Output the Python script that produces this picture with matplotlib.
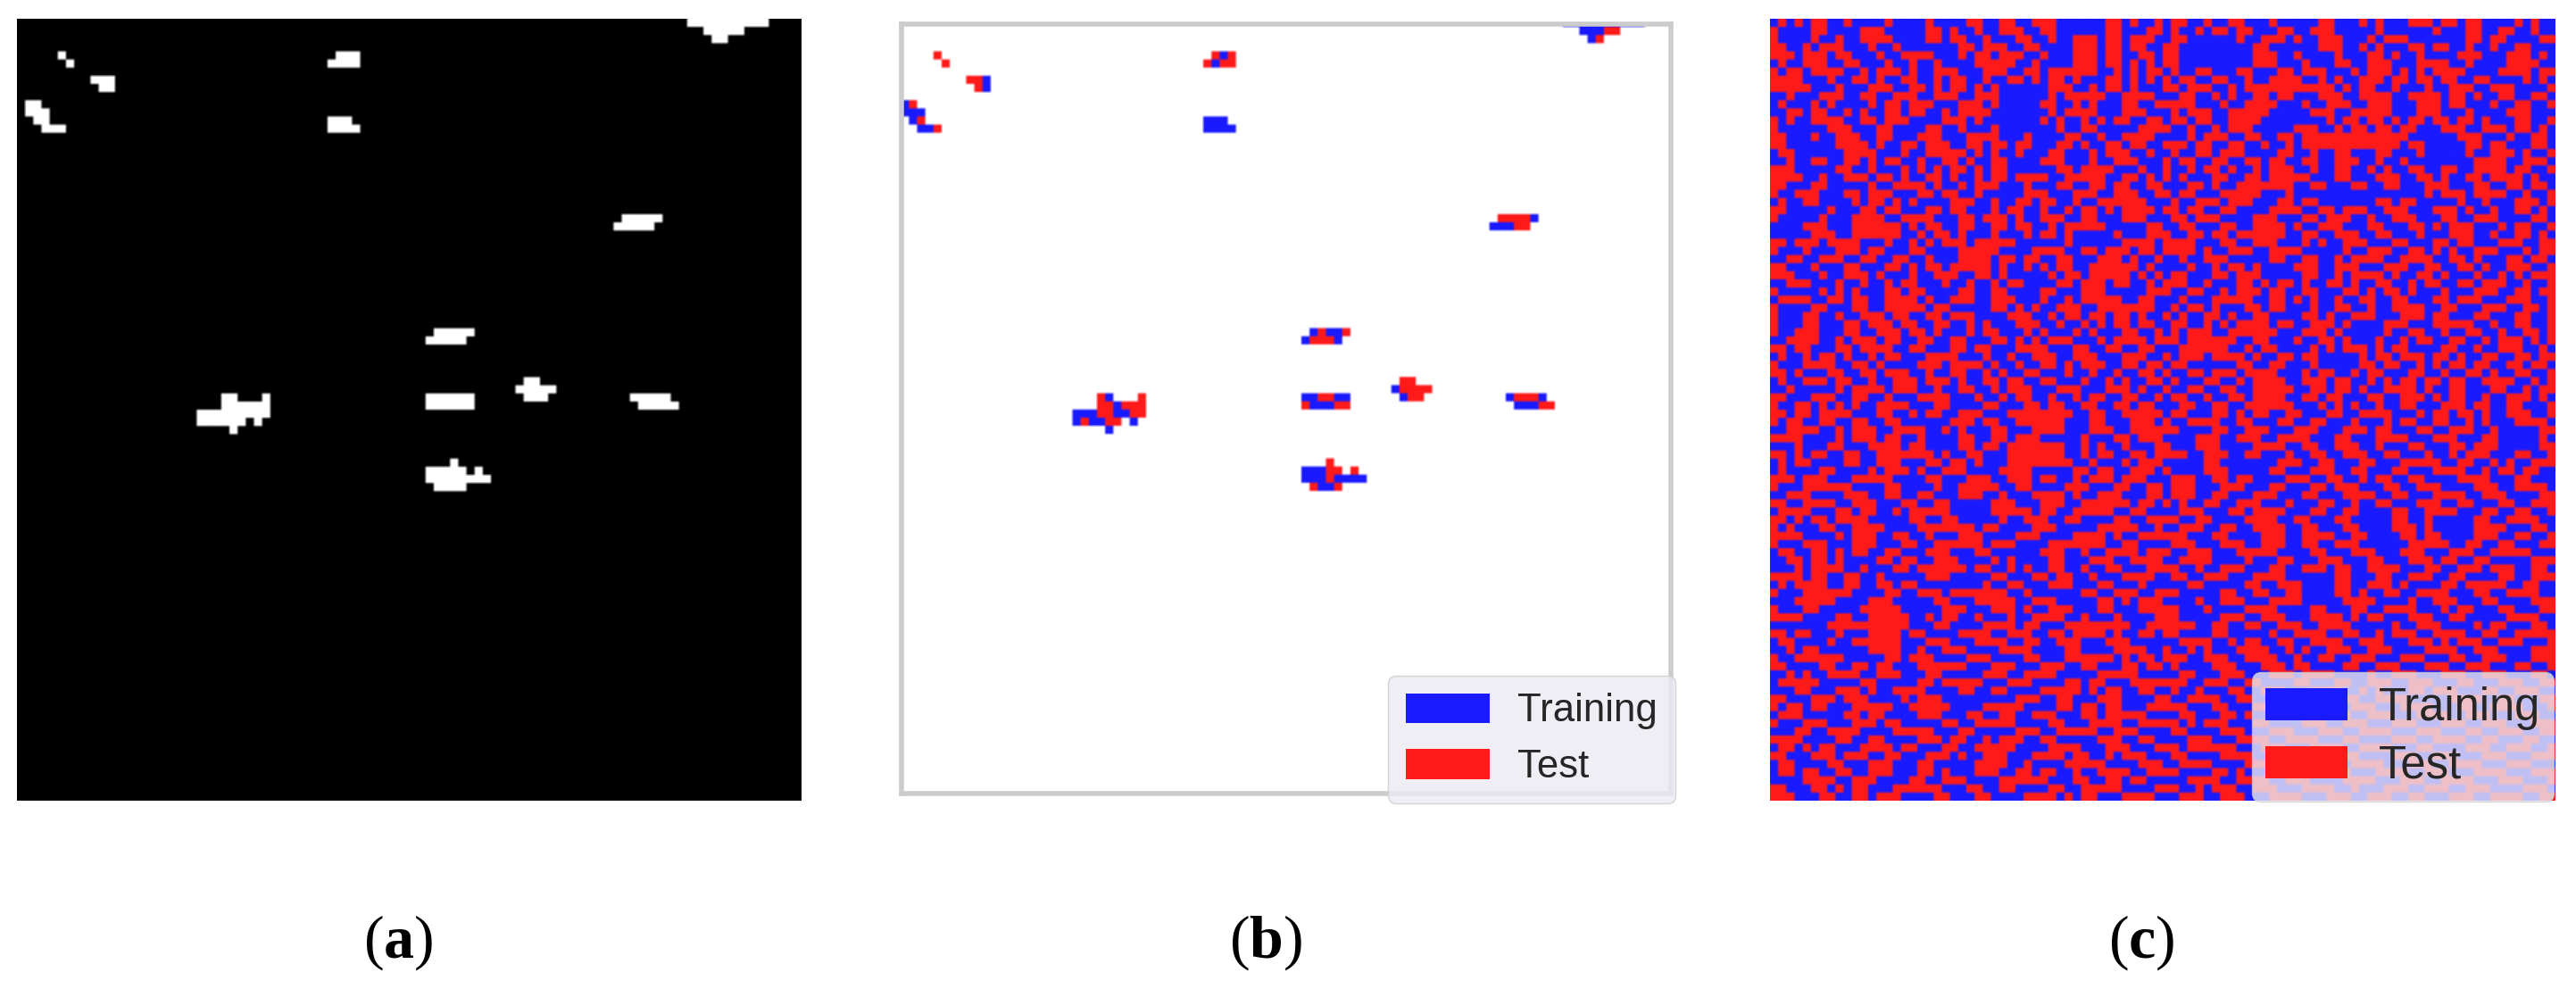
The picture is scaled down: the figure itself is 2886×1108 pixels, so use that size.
"""
Three panel figure: label mask, training/test split by region, random split.
Cell values below are read by eye from the picture.
"""

import numpy as np
import matplotlib
matplotlib.use("Agg")
import matplotlib.pyplot as plt
from matplotlib.patches import Patch

WIDTH, HEIGHT = 2886, 1108
GRID = 96
BLUE = "#1a1aff"
RED = "#ff1a1a"

LEGEND_LABELS = ["Training", "Test"]
PANEL_LABELS = ["a", "b", "c"]

# (row, first column, cells) B = training, R = test
MASK_RUNS = [
    (0, 82, "BBBBBBBBBB"), (1, 84, "BBBRR"), (2, 85, "BR"),
    (4, 5, "R"), (5, 6, "R"),
    (7, 9, "RRB"), (8, 10, "RB"),
    (10, 1, "BR"), (11, 1, "BBB"), (12, 2, "BR"), (13, 3, "BBR"),
    (4, 39, "RBR"), (5, 38, "RBRR"),
    (12, 38, "BBB"), (13, 38, "BBBB"),
    (24, 74, "RRRRB"), (25, 73, "BBBRR"),
    (38, 51, "BRBBR"), (39, 50, "BRRRB"),
    (46, 25, "RB"), (46, 30, "R"),
    (47, 25, "RRBRRR"),
    (48, 22, "BBBRRBBRR"),
    (49, 22, "BRBBRR"), (49, 29, "B"),
    (50, 26, "B"),
    (46, 50, "BBRRBB"), (47, 50, "RBBBRR"),
    (54, 53, "R"), (55, 50, "BBBRR"), (55, 56, "R"),
    (56, 50, "BBBRBBBB"), (57, 51, "RBBR"),
    (44, 62, "RR"), (45, 61, "BRRRR"), (46, 62, "BRR"),
    (46, 75, "BRRRB"), (47, 76, "BBBRR"),
]

# 1 = test, 0 = training, four quadrants of 48 x 48 cells
SPLIT_TOP_LEFT = [
    "01010110 01000010 00010000 11001100 11100000 01101001",
    "10000110 00011100 00011010 01001110 01100000 01100011",
    "10000100 10011110 00011011 00100011 00100111 01101110",
    "11001011 10001001 00000001 10111001 10000111 01101100",
    "11101110 11000100 11110001 01101110 01000111 01100110",
    "01001110 01100010 01001000 01111100 10000111 01101010",
    "10110111 10010111 01001110 00111001 10111111 00101011",
    "11110001 00110100 11001011 00100110 10110100 01101010",
    "11111000 10001110 01101011 01010000 00111001 01101000",
    "00100011 10011001 11001110 01110000 00101111 10011110",
    "01000101 00001011 01110001 11010000 01100101 00011001",
    "00110110 01010011 01100101 11100000 00101111 00011100",
    "10100111 10011011 10000111 01000000 01010010 10110011",
    "10000001 11000110 00011001 00010000 00010011 00000111",
    "11000100 11100110 00111000 11110001 00001100 10011110",
    "11000000 11110100 11011100 11011011 00011010 01101100",
    "01100000 01111000 10011111 01010010 00110001 01110010",
    "00100110 01101011 00100110 10011000 01110001 00111000",
    "11100000 11001000 10101011 01011000 00011011 11000100",
    "11110010 01110110 10011010 01011011 11001111 10011010",
    "11000110 00001001 11101001 01110001 00011001 10110011",
    "10011100 01101110 00110110 01000001 11000111 00111001",
    "01001100 00101101 01000011 10010011 01100100 11111100",
    "11000001 00011011 00011011 00010110 01001011 01011110",
    "10000010 00111100 11110001 10111010 01110011 00011100",
    "00001110 00111111 01011001 10011011 00101111 10000011",
    "00000111 00111111 00101101 00010001 01101000 00100011",
    "11011101 11100010 01010111 01111100 00001000 00011110",
    "10001000 11101100 01100001 11110000 11110011 01110110",
    "00110011 10011001 10010001 11101101 10011000 11101001",
    "11000100 01100011 01011011 11101001 01011001 11111010",
    "11100010 01110100 01001110 01101000 00101101 11110101",
    "00111000 10010010 11000100 10010110 00011011 10110010",
    "10000010 10100011 01100001 10011000 01100011 10000011",
    "01111001 10110011 11010011 10011100 01001011 11100110",
    "10000110 00110011 11101100 00011010 10011100 11111110",
    "10001100 10011101 10011011 10000111 00101101 10110100",
    "10001100 01101110 11001100 10100011 10010010 10110110",
    "10011100 01100111 01101000 10110001 01000101 00011001",
    "00111100 10111011 00110011 00011010 10111000 10111101",
    "11011000 11011110 01100011 01100011 11000110 01100110",
    "01001011 01001011 00011110 00100100 11100111 00011100",
    "10001111 00110100 00111011 11010010 01101011 10011011",
    "11010001 10011011 10010011 00101001 10001001 00100110",
    "01001110 11001001 11011101 00110110 01100010 01010011",
    "00100000 10111101 11001001 10010111 00011100 01110100",
    "11000111 00110010 00111100 01001011 00100101 10011001",
    "10011010 10100111 10001100 00110001 10110011 00110110",
]

SPLIT_TOP_RIGHT = [
    "01100100 11000100 00011000 10100011 10110110 00010100",
    "01001011 01100011 00111000 00100000 01000110 01100100",
    "01100000 01001110 10011100 01011100 00000110 11000011",
    "11000000 00011000 00011100 10100011 01100100 10011000",
    "11000000 00011100 10000100 01101001 00001110 00111010",
    "11000000 00011100 01000110 01110001 11100100 00111100",
    "01001100 01100011 01110001 01110101 01111000 01111011",
    "10110011 00100111 10010100 11101101 10110011 00001010",
    "11011100 10111111 11111010 11001000 10011100 11100001",
    "00110010 10011011 00011100 11110011 11011010 01100110",
    "11110001 00111100 01001110 01110001 11011000 10011001",
    "01011100 11111000 00111001 11110001 11000100 00111000",
    "01101100 11110000 00001011 01101011 01101101 00011001",
    "10010010 11100000 11100101 10110110 00111001 11011010",
    "00010111 00110011 01111111 11111100 00001110 00100110",
    "11101100 11001001 01111111 11111011 00000110 11000110",
    "01001101 11000011 00100110 00110001 00000100 11101001",
    "10110011 00110110 01100111 00100100 00000011 11001110",
    "10010110 10010111 00100110 01010011 00110011 11011001",
    "10100011 00110111 11000110 00111001 10100110 11110100",
    "00011010 01111111 00110001 10011000 11100011 00110110",
    "10110001 11110001 00000000 00000000 10111011 11001001",
    "01001110 11100011 01100000 00110110 00001001 00011101",
    "11011001 10000111 10011011 10011100 01110100 10011010",
    "01101110 00011100 01101110 01001110 00110011 10000110",
    "00110001 10011110 10011100 01100011 01011100 01011001",
    "10011011 01111110 01100111 00110001 00011100 10011010",
    "11110001 10011100 01010011 10001100 01101100 01110011",
    "11110100 11100111 10000010 01110011 01010011 10001011",
    "00100111 00000110 01100101 11100111 10011010 00110110",
    "00010010 11010000 11100111 00011100 11001101 00111001",
    "01100011 01110000 01100101 11101001 10100010 01010111",
    "11100100 01101011 01001101 00110010 11001101 11001001",
    "10011001 01110110 01100011 01011010 00100011 10011011",
    "00100011 11100110 10100100 11001100 01101110 00111001",
    "01011010 00110110 00100110 01001111 00110001 11001101",
    "10100110 10011000 01101001 11000111 01100011 00011001",
    "01100101 01111011 00111010 00011100 01111100 10011001",
    "01011100 11111100 01110100 00010011 00100110 01001101",
    "11011111 10011000 10011010 00100101 10011001 01110101",
    "00111111 00101100 00101011 10101100 00110010 01110010",
    "10111011 11010011 01100000 10110111 01101001 10011011",
    "01100000 01100110 00100000 11011001 01011011 00110110",
    "10011011 10111100 01011001 01100011 00100110 10011001",
    "01000110 01011110 01110110 01010110 11011001 11100101",
    "10011001 10011111 00110110 10011110 10011000 11001011",
    "01100100 11011110 01101100 01100111 01011001 00111010",
    "00110011 00111111 00010101 00100110 00111011 00110001",
]

SPLIT_BOTTOM_LEFT = [
    "11011011 11000110 01011001 11000111 11111001 10011111",
    "10110011 00110011 00000011 10110011 11110001 10001110",
    "00111100 10111001 11100101 00011000 11110001 11001111",
    "11110000 10111011 00100001 10011011 10000010 00110111",
    "00010001 10001111 01100001 10110111 11110010 10010001",
    "11010110 01100111 11110100 11000111 11110010 11001101",
    "01011000 01100111 00011011 01000111 11111001 00010111",
    "01000011 00001011 10100111 00001111 00000110 11001110",
    "11101110 00111110 00011000 11100111 01100101 11011100",
    "10001111 11000011 00001001 11110011 00001110 00110011",
    "00111000 01110011 00110001 11001000 11110100 11100011",
    "11001111 00111000 11001100 00011100 01110011 11110110",
    "01111000 11011001 01111100 00011111 01100111 11001100",
    "11010110 11110000 01100110 00001001 11001100 00110011",
    "10100011 00111100 00111111 10110000 11100000 11111001",
    "11110000 10111001 10010001 11000011 10000111 10100111",
    "10001110 00111000 11001111 11011100 00111111 10011000",
    "01100110 10110011 00011100 01100000 01110010 01111011",
    "00110110 10000110 11001110 00010100 00110001 11001111",
    "00010111 10010001 10111111 01100101 00110010 01100011",
    "11110110 01100100 00011100 00011000 11011001 00011110",
    "01011110 01100110 11000000 00100110 00111000 11000100",
    "10001111 11000011 00111011 11111001 00000011 00111001",
    "00011111 00001110 00001100 01111100 11100000 11010111",
    "10001100 00011111 00000111 00011101 00111000 11000111",
    "11110000 11001111 10010110 01000100 11110010 00100001",
    "00000001 11111111 10001100 00111101 10001111 11110011",
    "11011000 10001111 01100001 11100111 00110111 10100110",
    "01100001 00111111 00011100 01111001 10011100 01110000",
    "00101100 00001111 00100111 00001111 00001100 00111100",
    "10011111 10000011 01110000 11100001 10001111 11010110",
    "11000011 00110110 00111111 00011100 01110011 00011011",
    "00101001 11100111 00011000 00111001 11100000 11111000",
    "01111100 00011000 00110111 11000111 00001101 10001111",
    "00011000 11101001 11100001 10011000 01111101 01100110",
    "11000111 01110000 10111000 00000011 10011000 11100001",
    "10110110 00111110 01111100 00111110 00011011 01100011",
    "01110000 01101100 00111000 11001100 11100011 01111100",
    "10001110 00111011 00000110 01111100 00110001 11100111",
    "00011001 11100001 11110001 10000011 10011111 00111000",
    "11110000 11001100 00111011 00101110 01100000 11100110",
    "01101011 00011110 11000110 01111100 00111100 01110001",
    "11000111 01110011 00011101 00111000 11110110 01011100",
    "01100001 10001110 00110000 01111001 00001111 10000111",
    "01101100 11001110 00110100 01110011 01100100 11110011",
    "00001111 00111000 01100111 00001111 11000110 01101100",
    "11000110 10110001 11111000 11001100 00110011 11100001",
    "11100011 00110111 00001100 01100001 11101011 00011110",
]

SPLIT_BOTTOM_RIGHT = [
    "01100011 01011001 10001100 11110001 01101101 00111001",
    "10011110 01100011 00110001 00010110 01100101 00011110",
    "11000011 00111000 11100011 10110001 10011100 10000011",
    "00001110 01110011 11000110 00111100 01110001 10000010",
    "10001110 00011110 01100111 00100011 00011011 10000011",
    "11100111 00110001 00110011 10011000 10010111 00011001",
    "00000110 00000011 10011000 11000111 11001100 10100111",
    "10000111 00000110 00111001 10001100 01111001 01101100",
    "01110011 01100001 11001100 10110011 00001111 00011000",
    "01110001 11000110 00110111 00011001 11000011 10011110",
    "01110011 00011100 01100011 11001100 01111001 11000011",
    "10100110 01110001 00011001 00110001 11001100 01100111",
    "00111000 11011110 00110011 00001100 11110001 10011001",
    "11001100 00111100 11000110 00001100 10000011 00111100",
    "00111001 10011110 01100011 00001110 10000011 11000110",
    "11100011 00001110 01111001 10000110 11000011 10011001",
    "01110001 11001110 01100111 00000011 11100110 01100011",
    "10011100 01111100 00110001 11000111 00011100 11111000",
    "00111100 00100011 00011100 01100011 10110011 00000111",
    "11001001 11000110 01110110 01111000 11001110 11100110",
    "01100111 00011110 00000110 00110011 10011000 01100111",
    "00011000 00110011 10000110 01110100 00110111 11001100",
    "11000001 10011001 10000110 10011001 11100011 00111100",
    "00001001 11000111 10000011 11000010 01110001 10000111",
    "11000100 00111100 00110001 10011110 00101100 01100011",
    "11000001 11001110 00111101 01100011 10011000 00111100",
    "11110011 00110011 10011110 00001001 11000010 11000110",
    "11000011 00000100 11110011 00101110 01111001 10011111",
    "00111100 10110011 00111100 11100011 10101110 01110001",
    "10010100 01111001 01001110 01110000 11110011 10000111",
    "11100111 00111100 10011001 11000111 00011001 11000111",
    "01000011 10001110 11000011 00111000 11100111 00011001",
    "00110001 11000111 01111000 01001110 00111001 11000110",
    "11100111 00110000 11000110 01110011 10001100 01110011",
    "01001000 11001110 00111100 10100011 01110001 10011100",
    "10011110 01100001 11000011 00111100 00011110 01100011",
    "11100011 00011110 00111001 11000111 10001100 11110001",
    "00110001 10100011 10001110 01110001 11100111 00011100",
    "11010111 00011000 01110011 10001110 00111001 11000111",
    "01100001 11000111 00011100 11110001 11000110 01110011",
    "00011100 01111001 11100011 00001110 01111001 10001100",
    "11011111 10001110 00111100 11110001 10000111 00111001",
    "01100001 11100011 10001111 00001110 01110001 11000111",
    "00111100 00111000 11110001 11100011 10011110 00111000",
    "11000011 01000111 00011110 00111100 11100011 11000111",
    "00011110 01111001 11000011 11000111 00111100 01110001",
    "11001011 10011100 01111001 00011100 11100111 00001110",
    "00111001 11000111 10001110 01110011 00011100 11110011",
]


def box(x0, y0, x1, y1):
    # pixel box from the top left corner -> figure fraction rect
    return [x0 / WIDTH, 1 - y1 / HEIGHT, (x1 - x0) / WIDTH, (y1 - y0) / HEIGHT]


def smooth(grid):
    # a short blur at cell edges, like the resized screenshot
    return np.repeat(np.repeat(grid, 3, axis=0), 3, axis=1)


def split_rows(left, right):
    return [(a + b).replace(" ", "") for a, b in zip(left, right)]


def add_legend(ax, anchor, fontsize, **spacing):
    handles = [Patch(color=BLUE, lw=0), Patch(color=RED, lw=0)]
    leg = ax.legend(
        handles, LEGEND_LABELS,
        loc="lower left",
        bbox_to_anchor=(anchor[0] / WIDTH, 1 - anchor[1] / HEIGHT),
        bbox_transform=fig.transFigure,
        prop={"family": "Liberation Sans", "size": fontsize},
        labelcolor="#262626",
        facecolor="#eaeaf2", edgecolor="#cccccc", framealpha=0.8,
        fancybox=True, borderaxespad=0,
        **spacing,
    )
    return leg


plt.rcParams["mathtext.fontset"] = "custom"
plt.rcParams["mathtext.rm"] = "Liberation Serif"
plt.rcParams["mathtext.bf"] = "Liberation Serif:bold"

fig = plt.figure(figsize=(WIDTH / 100, HEIGHT / 100), dpi=100)

colors = np.array([matplotlib.colors.to_rgb(c) for c in ("white", BLUE, RED)])
labels = np.zeros((GRID, GRID), dtype=int)
for row, col, cells in MASK_RUNS:
    for i, cell in enumerate(cells):
        labels[row, col + i] = 1 if cell == "B" else 2

# (a) mask
ax_a = fig.add_axes(box(19, 21, 898, 897))
ax_a.imshow(smooth((labels > 0).astype(float)), cmap="gray", vmin=0, vmax=1,
            extent=(0, GRID, GRID, 0), aspect="auto", interpolation="bilinear")
ax_a.axis("off")

# (b) split by region, the frame cuts the image a little
ax_b = fig.add_axes(box(1010, 27, 1872, 889))
ax_b.imshow(smooth(colors[labels]), extent=(0, GRID, GRID, 0), aspect="auto",
            interpolation="bilinear")
ax_b.set_xlim(10 / 9.16, 872 / 9.16)
ax_b.set_ylim(868 / 9.12, 6 / 9.12)
ax_b.set_xticks([])
ax_b.set_yticks([])
for spine in ax_b.spines.values():
    spine.set_color("#cccccc")
    spine.set_linewidth(4)
add_legend(ax_b, (1555, 900), 31.5, borderpad=0.45, handlelength=2.15,
           handleheight=0.8, handletextpad=0.72, labelspacing=0.5)

# (c) random split
rows = split_rows(SPLIT_TOP_LEFT, SPLIT_TOP_RIGHT) + split_rows(SPLIT_BOTTOM_LEFT, SPLIT_BOTTOM_RIGHT)
split = np.array([[int(v) + 1 for v in r.ljust(GRID, "0")[:GRID]] for r in rows])
ax_c = fig.add_axes(box(1983, 21, 2863, 897))
ax_c.imshow(smooth(colors[split]), extent=(0, GRID, GRID, 0), aspect="auto",
            interpolation="bilinear")
ax_c.axis("off")
add_legend(ax_c, (2523, 898), 36.5, borderpad=0.3, handlelength=1.81,
           handleheight=0.72, handletextpad=0.69, labelspacing=0.32)

for name, x in zip(PANEL_LABELS, [446, 1418, 2399]):
    fig.text(x / WIDTH, 1 - 1056 / HEIGHT, rf"$(\mathbf{{{name}}})$",
             ha="center", va="center", fontsize=49, color="black")

fig.savefig("out.png", dpi=100)
plt.close(fig)
